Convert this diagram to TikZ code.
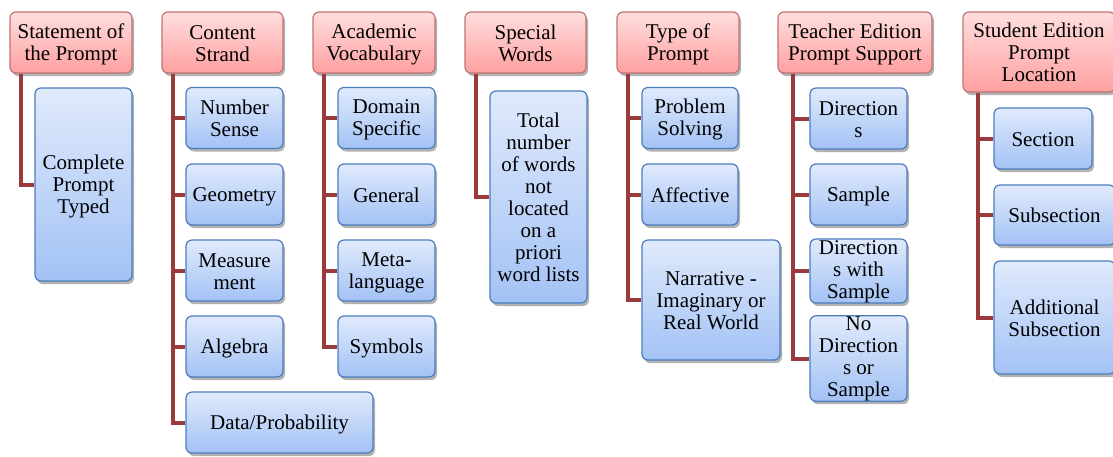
\documentclass[tikz,border=0pt]{standalone}
\usepackage{fontspec}
\setmainfont{Liberation Serif}
\usetikzlibrary{shadows}
\definecolor{hdrtop}{RGB}{255,222,222}
\definecolor{hdrbot}{RGB}{255,160,160}
\definecolor{hdrline}{RGB}{190,115,115}
\definecolor{itmtop}{RGB}{224,234,252}
\definecolor{itmbot}{RGB}{163,194,245}
\definecolor{itmline}{RGB}{75,125,188}
\definecolor{linkred}{RGB}{155,58,58}
% label text with fixed line ascent/descent so every box centres alike
\newcommand\lblt[3]{\rule{0pt}{#1}#3\rule[-#2]{0pt}{#2}}
\newcommand\lbl[1]{\lblt{18pt}{3pt}{#1}}
\tikzset{
  basebox/.style={rectangle, rounded corners=6pt, inner sep=0pt, align=center,
    font=\fontsize{21}{22}\selectfont, line width=1.2pt,
    drop shadow={shadow xshift=2pt, shadow yshift=-3pt, opacity=0.3, fill=black}},
  hdr/.style={basebox, draw=hdrline, top color=hdrtop, bottom color=hdrbot},
  itm/.style={basebox, draw=itmline, top color=itmtop, bottom color=itmbot},
  link/.style={draw=linkred, line width=4pt, line join=miter},
  box/.style n args={2}{minimum width=#1pt, minimum height=#2pt}
}
\begin{document}
\begin{tikzpicture}[x=1pt, y=-1pt]
\useasboundingbox (0,0) rectangle (1113,456);

% category headers
\node[hdr, box={122}{61}] (h1) at (71,42.5)    {\lbl{Statement of\\the Prompt}};
\node[hdr, box={121}{61}] (h2) at (222.5,42.5) {\lbl{Content\\Strand}};
\node[hdr, box={122}{61}] (h3) at (374,42.5)   {\lbl{Academic\\Vocabulary}};
\node[hdr, box={121}{61}] (h4) at (525.5,42.5) {\lbl{Special\\Words}};
\node[hdr, box={122}{61}] (h5) at (678,42.5)   {\lbl{Type of\\Prompt}};
\node[hdr, box={154}{61}] (h6) at (855,42.5)   {\lbl{Teacher Edition\\Prompt Support}};
\node[hdr, box={152}{80}] (h7) at (1039,52)    {\lbl{Student Edition\\Prompt\\Location}};

% statement of the prompt
\node[itm, box={97}{193}] (a1) at (83.5,184.5) {\lbl{Complete\\Prompt\\Typed}};

% content strand
\node[itm, box={97}{61}]  (b1) at (234.5,118)   {\lbl{Number\\Sense}};
\node[itm, box={97}{61}]  (b2) at (234.5,194.5) {\lbl{Geometry}};
\node[itm, box={97}{61}]  (b3) at (234.5,270.5) {\lbl{Measure\\ment}};
\node[itm, box={97}{61}]  (b4) at (234.5,346.5) {\lbl{Algebra}};
\node[itm, box={187}{61}] (b5) at (279.5,422.5) {\lbl{Data/Probability}};

% academic vocabulary
\node[itm, box={97}{61}] (v1) at (386.5,118)   {\lbl{Domain\\Specific}};
\node[itm, box={97}{61}] (v2) at (386.5,194.5) {\lbl{General}};
\node[itm, box={97}{61}] (v3) at (386.5,270.5) {\lbl{Meta-\\language}};
\node[itm, box={97}{61}] (v4) at (386.5,346.5) {\lbl{Symbols}};

% special words
\node[itm, box={97}{212}] (s1) at (538.5,197)
  {\lbl{Total\\number\\of words\\not\\located\\on a\\priori\\word lists}};

% type of prompt
\node[itm, box={96}{61}]   (t1) at (690,118)   {\lbl{Problem\\Solving}};
\node[itm, box={96}{61}]   (t2) at (690,194.5) {\lbl{Affective}};
\node[itm, box={138}{120}] (t3) at (711,300)   {\lbl{Narrative -\\Imaginary or\\Real World}};

% teacher edition prompt support (the last two labels fill their boxes)
\node[itm, box={97}{61}] (e1) at (858.5,118.5) {\lbl{Direction\\s}};
\node[itm, box={97}{61}] (e2) at (858.5,194.5) {\lbl{Sample}};
\node[itm, box={97}{60}] (e3) at (858.5,271)   {\lblt{15.5pt}{0.5pt}{Direction\\s with\\Sample}};
\node[itm, box={97}{83}] (e4) at (858.5,358.5) {\lblt{15pt}{2pt}{No\\Direction\\s or\\Sample}};

% student edition prompt location
\node[itm, box={98}{61}]  (l1) at (1043,138.5)   {\lbl{Section}};
\node[itm, box={121}{60}] (l2) at (1054.5,215)   {\lbl{Subsection}};
\node[itm, box={121}{113}] (l3) at (1054.5,317.5) {\lbl{Additional\\Subsection}};

% connectors
\foreach \c in {a1}
  \draw[link] ([xshift=12pt]h1.south west) |- (\c.west);
\foreach \c in {b1,b2,b3,b4,b5}
  \draw[link] ([xshift=12pt]h2.south west) |- (\c.west);
\foreach \c in {v1,v2,v3,v4}
  \draw[link] ([xshift=12pt]h3.south west) |- (\c.west);
\foreach \c in {s1}
  \draw[link] ([xshift=12pt]h4.south west) |- (\c.west);
\foreach \c in {t1,t2,t3}
  \draw[link] ([xshift=12pt]h5.south west) |- (\c.west);
\foreach \c in {e1,e2,e3,e4}
  \draw[link] ([xshift=16pt]h6.south west) |- (\c.west);
\foreach \c in {l1,l2,l3}
  \draw[link] ([xshift=16pt]h7.south west) |- (\c.west);
\end{tikzpicture}
\end{document}
